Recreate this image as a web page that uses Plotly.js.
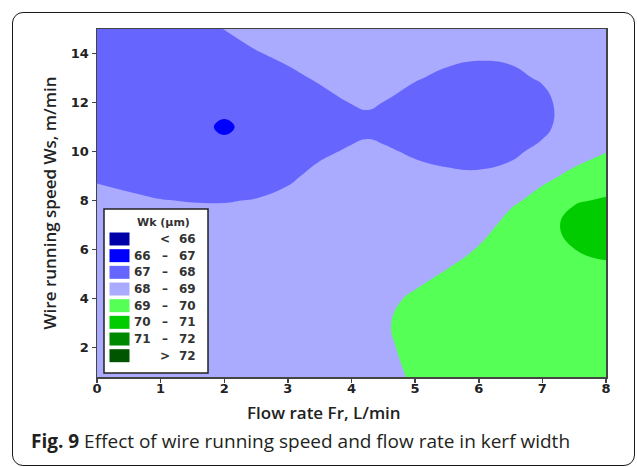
<!DOCTYPE html>
<html><head><meta charset="utf-8">
<script src="https://cdn.plot.ly/plotly-3.0.1.min.js"></script>
<style>
html,body{margin:0;padding:0;background:#fff;}
#wrap{position:relative;width:637px;height:467px;overflow:hidden;}
#chart{position:absolute;left:0;top:0;width:637px;height:467px;}
#frame{position:absolute;left:12px;top:12px;width:623px;height:454px;border:1.5px solid #1a1a1a;border-radius:11px;box-sizing:border-box;pointer-events:none;}
</style></head><body>
<div id="wrap"><div id="chart"></div><div id="frame"></div></div>
<script>
// Flow rate Fr (L/min) grid
const flowRate = [0,0.5,1,1.5,2,2.5,3,3.5,4,4.25,4.5,5,5.5,6,6.5,7,7.5,8];
// Wire running speed Ws (m/min) grid
const wireSpeed = [0.8,2,3,4,5,6,7,8,9,10,11,12,13,14,15];
// Kerf width Wk (µm), rows follow wireSpeed, columns follow flowRate
const kerfWidth = [
 [68.7,68.7,68.7,68.7,68.7,68.7,68.7,68.7,68.7,68.6,68.5,69.2,69.75,69.75,69.75,69.75,69.75,69.75],
 [68.7,68.7,68.7,68.7,68.7,68.7,68.7,68.7,68.7,68.7,68.7,69.45,69.75,69.75,69.75,69.75,69.75,69.75],
 [68.7,68.7,68.7,68.7,68.7,68.7,68.7,68.7,68.7,68.75,68.8,69.6,69.75,69.75,69.75,69.75,69.75,69.75],
 [68.7,68.7,68.7,68.7,68.7,68.7,68.7,68.7,68.7,68.7,68.7,69.18,69.6,69.75,69.75,69.75,69.75,69.5],
 [68.7,68.7,68.7,68.7,68.7,68.7,68.7,68.7,68.7,68.7,68.7,68.68,69.1,69.57,69.75,69.75,69.5,69.72],
 [68.7,68.7,68.7,68.7,68.7,68.7,68.7,68.7,68.7,68.7,68.7,68.6,68.6,69.07,69.75,69.75,69.99,70.22],
 [68.7,68.68,68.53,68.46,68.45,68.54,68.7,68.7,68.7,68.7,68.7,68.6,68.6,68.57,69.33,69.5,70.4,70.6],
 [68.35,68.18,68.03,67.96,67.95,68.04,68.3,68.7,68.7,68.7,68.7,68.6,68.6,68.6,68.83,69.3,69.9,70.1],
 [67.85,67.68,67.53,67.5,67.5,67.54,67.8,68.3,68.68,68.7,68.65,68.35,68.18,68.13,68.3,68.8,69.18,69.47],
 [67.5,67.5,67.5,67.5,67.35,67.5,67.5,67.8,68.14,68.28,68.15,67.85,67.68,67.63,67.8,68.25,68.68,68.97],
 [67.5,67.5,67.5,67.35,66.83,67.35,67.5,67.5,67.64,67.73,67.65,67.5,67.5,67.5,67.5,67.75,68.58,68.5],
 [67.5,67.5,67.5,67.5,67.35,67.5,67.5,67.63,68.03,68.12,67.99,67.58,67.5,67.5,67.5,67.63,68.75,68.6],
 [67.5,67.5,67.5,67.5,67.5,67.5,67.75,68.13,68.53,68.6,68.48,68.08,67.78,67.65,67.73,68.13,68.7,68.6],
 [67.5,67.5,67.5,67.5,67.5,67.93,68.25,68.63,68.7,68.7,68.7,68.58,68.28,68.15,68.23,68.6,68.7,68.6],
 [67.5,67.5,67.5,67.5,68.02,68.43,68.7,68.7,68.7,68.7,68.7,68.6,68.6,68.6,68.6,68.6,68.7,68.6]
];
// Contour levels and band colours
const levels = [66,67,68,69,70,71,72];
const bandColors = ['#0000A8','#0000FF','#6666FF','#AAAAFF','#55FF55','#00CC00','#008800','#005500'];
const legendTitle = 'Wk (µm)';
const xTitle = 'Flow rate Fr, L/min';
const yTitle = 'Wire running speed Ws, m/min';
const captionBold = 'Fig. 9';
const captionText = 'Effect of wire running speed and flow rate in kerf width';

// plot area in pixels
const M = {l:97, r:31, t:29, b:90};
const W = 637, H = 467;
const pw = W - M.l - M.r, ph = H - M.t - M.b;
const px2x = p => (p - M.l) / pw;
const px2y = p => 1 - (p - M.t) / ph;

const colorscale = bandColors.map((c,i) => [i/(bandColors.length-1), c]);

const trace = {
  type:'contour', x:flowRate, y:wireSpeed, z:kerfWidth,
  autocontour:false,
  contours:{start:levels[0], end:levels[levels.length-1], size:1, coloring:'fill', showlines:false},
  line:{width:0, smoothing:1.3},
  colorscale:colorscale, showscale:false, hoverinfo:'skip'
};

const shapes = [];
const annotations = [];
const legFont = {family:'DejaVu Sans', size:12, color:'#333', weight:'bold'};
// legend box
shapes.push({type:'rect', xref:'paper', yref:'paper', x0:px2x(104), x1:px2x(208), y0:px2y(373), y1:px2y(209),
  fillcolor:'#fff', line:{color:'#222', width:1.5}, layer:'above'});
annotations.push({xref:'paper', yref:'paper', x:px2x(163), y:px2y(222), text:legendTitle, showarrow:false,
  xanchor:'center', yanchor:'middle', font:{family:'DejaVu Sans', size:11, color:'#333', weight:'bold'}});
bandColors.forEach((c,k) => {
  const top = 232.5 + 16.67*k, cy = top + 6.5;
  shapes.push({type:'rect', xref:'paper', yref:'paper', x0:px2x(109.5), x1:px2x(129.5), y0:px2y(top+13), y1:px2y(top),
    fillcolor:c, line:{width:0}, layer:'above'});
  let left = '', mid = '', right = '';
  if (k === 0) { mid = '<'; right = String(levels[0]); }
  else if (k === bandColors.length-1) { mid = '>'; right = String(levels[levels.length-1]); }
  else { left = String(levels[k-1]); mid = '–'; right = String(levels[k]); }
  if (left) annotations.push({xref:'paper', yref:'paper', x:px2x(152.5), y:px2y(cy), text:left, showarrow:false, xanchor:'right', yanchor:'middle', font:legFont});
  annotations.push({xref:'paper', yref:'paper', x:px2x(165), y:px2y(cy), text:mid, showarrow:false, xanchor:'center', yanchor:'middle', font:legFont});
  annotations.push({xref:'paper', yref:'paper', x:px2x(197.5), y:px2y(cy), text:right, showarrow:false, xanchor:'right', yanchor:'middle', font:legFont});
});
// x axis title (placed as in the reference, slightly left of centre)
annotations.push({xref:'paper', yref:'paper', x:px2x(324), y:px2y(412), xanchor:'center', yanchor:'middle', showarrow:false,
  text:xTitle, font:{family:'Open Sans', size:17, color:'#222', weight:600}});
// caption
annotations.push({xref:'paper', yref:'paper', x:px2x(29), y:px2y(441), xanchor:'left', yanchor:'middle', showarrow:false,
  text:'<b>'+captionBold+'</b> '+captionText, font:{family:'Open Sans', size:19, color:'#231f20'}});

const tickFont = {family:'DejaVu Sans', size:13, color:'#222', weight:'bold'};
const axisCommon = {ticks:'outside', ticklen:4, tickwidth:1.5, tickcolor:'#444', showline:true, linecolor:'#444',
  linewidth:1.5, mirror:true, showgrid:false, zeroline:false, tickfont:tickFont};

const layout = {
  width:W, height:H, margin:M,
  paper_bgcolor:'rgba(0,0,0,0)', plot_bgcolor:'#fff',
  xaxis:Object.assign({}, axisCommon, {range:[0,8], tick0:0, dtick:1, ticklabelstandoff:-5}),
  yaxis:Object.assign({}, axisCommon, {range:[0.8,15], tick0:0, dtick:2,
    title:{text:yTitle, font:{family:'Open Sans', size:17, color:'#222', weight:600}, standoff:10}}),
  shapes:shapes, annotations:annotations, showlegend:false
};
Plotly.newPlot('chart', [trace], layout, {staticPlot:true, displayModeBar:false});
</script></body></html>
